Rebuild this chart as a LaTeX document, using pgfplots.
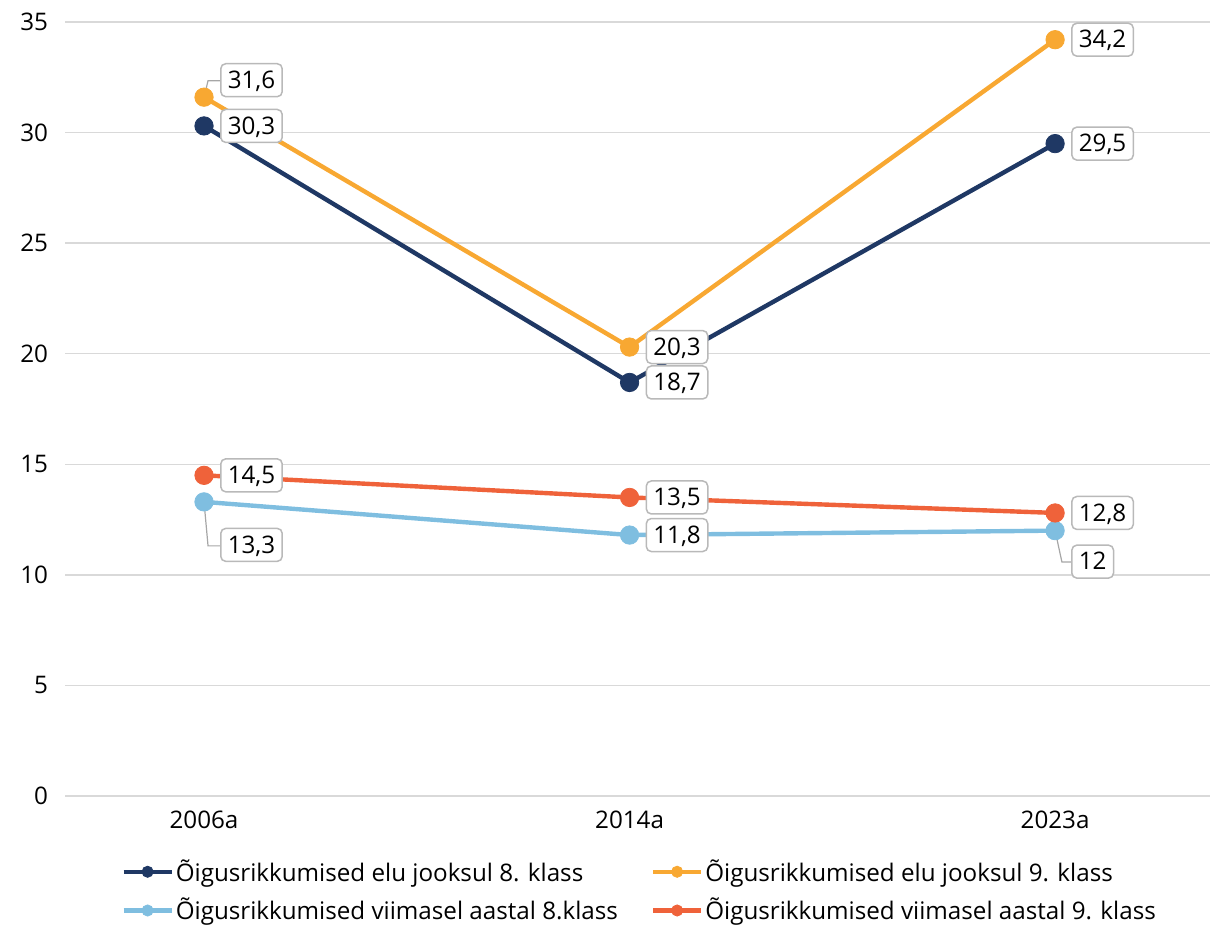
\documentclass[border=0pt]{standalone}
\usepackage{pgfplots}
\pgfplotsset{compat=1.18}
\usepackage{pgfplotstable}
\usepackage{fontspec}
\setmainfont{Open Sans}
\definecolor{cNavy}{RGB}{31,56,100}
\definecolor{cOrange}{RGB}{248,168,50}
\definecolor{cLight}{RGB}{127,190,224}
\definecolor{cRed}{RGB}{239,98,58}
\definecolor{cGrid}{RGB}{217,217,217}
\definecolor{cBox}{RGB}{185,185,185}
\definecolor{cLead}{RGB}{166,166,166}

\pgfplotstableread{
x y lab dy
0 30.3 {30,3} 0
1 18.7 {18,7} 0
2 29.5 {29,5} 0
}\tNavy
\pgfplotstableread{
x y lab dy
0 31.6 {31,6} 8.5
1 20.3 {20,3} 0
2 34.2 {34,2} 0
}\tOrange
\pgfplotstableread{
x y lab dy
0 13.3 {13,3} -21.5
1 11.8 {11,8} 0
2 12 {12} -15.5
}\tLight
\pgfplotstableread{
x y lab dy
0 14.5 {14,5} 0
1 13.5 {13,5} 0
2 12.8 {12,8} 0
}\tRed

\newcommand{\fs}{\fontsize{12.1}{14.5}\selectfont}

\begin{document}
\begin{tikzpicture}
\path[use as bounding box] (-32.5pt,-65pt) rectangle (572.5pt,398pt);
\begin{axis}[
  at={(0,0)}, anchor=south west,
  scale only axis,
  width=572.5pt, height=387pt,
  xmin=-0.3267, xmax=2.364,
  ymin=0, ymax=35,
  xtick={0,1,2},
  xticklabels={2006a,2014a,2023a},
  ytick={0,5,...,35},
  axis line style={draw=none},
  major tick length=0pt,
  ymajorgrids,
  grid style={cGrid, line width=0.7pt},
  tick label style={font=\fs, text=black},
  /pgf/number format/assume math mode=true,
  yticklabel style={xshift=-5pt},
  xticklabel style={yshift=-4pt},
  clip=false,
  legend columns=2,
  legend cell align=left,
  legend style={draw=none, fill=none, font=\fs,
    at={(axis description cs:0,0)}, anchor=north west,
    xshift=28pt, yshift=-30.5pt, inner sep=0pt,
    row sep=5pt,
    nodes={inner xsep=1pt, inner ysep=1pt},
    /tikz/every even column/.append style={column sep=15.5pt}},
  legend image code/.code={
    \draw[#1, mark=none] (0pt,0pt) -- (24pt,0pt);
    \draw[#1, mark size=2.8pt, only marks] plot coordinates {(12pt,0pt)};
  },
]
\addplot[cNavy, line width=2.2pt, mark=*, mark size=4.6pt, mark options={line width=0.4pt, fill=cNavy}] table[x=x,y=y] {\tNavy};
\addlegendentry{Õigusrikkumised elu jooksul 8. klass}
\addplot[cOrange, line width=2.2pt, mark=*, mark size=4.6pt, mark options={line width=0.4pt, fill=cOrange}] table[x=x,y=y] {\tOrange};
\addlegendentry{Õigusrikkumised elu jooksul 9. klass}
\addplot[cLight, line width=2.2pt, mark=*, mark size=4.6pt, mark options={line width=0.4pt, fill=cLight}] table[x=x,y=y] {\tLight};
\addlegendentry{Õigusrikkumised viimasel aastal 8.klass}
\addplot[cRed, line width=2.2pt, mark=*, mark size=4.6pt, mark options={line width=0.4pt, fill=cRed}] table[x=x,y=y] {\tRed};
\addlegendentry{Õigusrikkumised viimasel aastal 9. klass}

% leader lines
\addplot[forget plot, cLead, line width=0.6pt] coordinates {(0,31.6) (0.0094,32.34) (0.0376,32.34)};
\addplot[forget plot, cLead, line width=0.6pt] coordinates {(0,13.3) (0.0094,11.31) (0.0376,11.31)};
\addplot[forget plot, cLead, line width=0.6pt] coordinates {(2,12) (2.016,10.58) (2.04,10.58)};

% data labels
\pgfplotsset{lbl/.style={forget plot, draw=none, mark=none,
  point meta=explicit symbolic,
  visualization depends on={\thisrow{dy}\as\dy},
  nodes near coords,
  nodes near coords style={anchor=west, xshift=8pt, yshift={\dy*1pt},
    draw=cBox, fill=white, rounded corners=2.5pt, line width=0.75pt,
    text=black, font=\fs, inner xsep=3.5pt, inner ysep=3.6pt,
    text height=8.8pt, text depth=0.5pt}}}
\addplot[lbl] table[x=x,y=y,meta=lab] {\tNavy};
\addplot[lbl] table[x=x,y=y,meta=lab] {\tOrange};
\addplot[lbl] table[x=x,y=y,meta=lab] {\tLight};
\addplot[lbl] table[x=x,y=y,meta=lab] {\tRed};
\end{axis}
\end{tikzpicture}
\end{document}
